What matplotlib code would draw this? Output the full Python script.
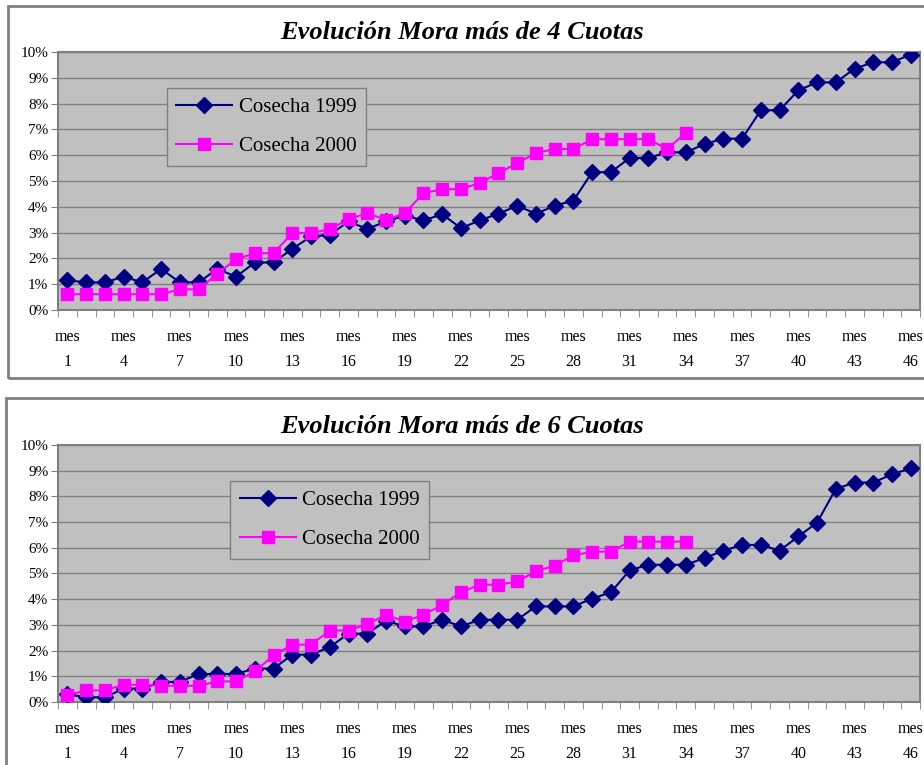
import numpy as np
import matplotlib.pyplot as plt
from matplotlib.patches import Rectangle

plt.rcParams['font.family'] = ['Liberation Serif', 'DejaVu Serif']

# months 1..46
meses = list(range(1, 47))

# Mora mas de 4 cuotas (%)
c1999_4 = [1.15, 1.07, 1.07, 1.29, 1.07, 1.59, 1.07, 1.07, 1.59, 1.29,
           1.84, 1.84, 2.37, 2.85, 2.91, 3.43, 3.14, 3.43, 3.66, 3.47,
           3.71, 3.17, 3.47, 3.73, 4.04, 3.73, 4.04, 4.24, 5.34, 5.34,
           5.89, 5.89, 6.11, 6.11, 6.43, 6.64, 6.64, 7.74, 7.74, 8.51,
           8.82, 8.82, 9.35, 9.60, 9.60, 9.90]
c2000_4 = [0.61, 0.61, 0.61, 0.61, 0.61, 0.61, 0.80, 0.80, 1.40, 1.97,
           2.20, 2.20, 2.98, 2.98, 3.13, 3.52, 3.75, 3.49, 3.75, 4.53,
           4.68, 4.68, 4.92, 5.30, 5.69, 6.08, 6.24, 6.24, 6.62, 6.62,
           6.62, 6.62, 6.24, 6.86]

# Mora mas de 6 cuotas (%)
c1999_6 = [0.30, 0.18, 0.18, 0.52, 0.52, 0.78, 0.78, 1.09, 1.09, 1.09,
           1.30, 1.30, 1.84, 1.84, 2.14, 2.66, 2.66, 3.16, 2.94, 2.94,
           3.20, 2.94, 3.20, 3.20, 3.20, 3.72, 3.72, 3.72, 4.02, 4.27,
           5.12, 5.34, 5.34, 5.34, 5.60, 5.89, 6.11, 6.11, 5.89, 6.44,
           6.98, 8.29, 8.54, 8.54, 8.86, 9.09]
c2000_6 = [0.26, 0.45, 0.45, 0.67, 0.67, 0.63, 0.63, 0.63, 0.80, 0.80,
           1.19, 1.81, 2.23, 2.23, 2.78, 2.78, 3.03, 3.39, 3.13, 3.39,
           3.78, 4.27, 4.56, 4.56, 4.69, 5.08, 5.31, 5.70, 5.85, 5.85,
           6.24, 6.24, 6.24, 6.24]

titulos = ['Evolución Mora más de 4 Cuotas', 'Evolución Mora más de 6 Cuotas']
etiquetas = ['Cosecha 1999', 'Cosecha 2000']

fig = plt.figure(figsize=(9.24, 7.65), dpi=100)

# chart frames
fig.patches.append(Rectangle((0.009, 0.506), 1.2, 0.486, transform=fig.transFigure,
                             fill=False, edgecolor='#808080', lw=2))
fig.patches.append(Rectangle((0.006, -0.2), 1.2, 0.68, transform=fig.transFigure,
                             fill=False, edgecolor='#808080', lw=2))

posiciones = [[0.0628, 0.5948, 0.933, 0.3373], [0.0628, 0.0824, 0.933, 0.3359]]
datos = [(c1999_4, c2000_4), (c1999_6, c2000_6)]
legend_x = [0.126, 0.2]

for k in range(2):
    ax = fig.add_axes(posiciones[k])
    ax.set_facecolor('#c0c0c0')
    s99, s00 = datos[k]
    ax.plot(meses[:len(s99)], s99, color='#000080', marker='D', markersize=8.5,
            lw=1.5, label=etiquetas[0], zorder=3)
    ax.plot(meses[:len(s00)], s00, color='#ff00ff', marker='s', markersize=9,
            lw=1.5, label=etiquetas[1], zorder=3)
    ax.set_xlim(0.5, 46.5)
    ax.set_ylim(0, 10)
    ax.set_yticks(range(0, 11))
    ax.set_yticklabels([f'{v}%' for v in range(0, 11)], fontsize=11)
    ax.yaxis.grid(True, color='#808080', lw=1)
    ax.set_axisbelow(True)
    ax.tick_params(axis='y', length=5, color='#808080', pad=2)
    ax.set_xticks(meses[::3])
    ax.set_xticklabels([f'mes\n{m}' for m in meses[::3]], fontsize=11.5, linespacing=1.75)
    ax.set_xticks(np.arange(0.5, 47, 1), minor=True)
    ax.tick_params(axis='x', which='major', length=0, pad=14)
    ax.tick_params(axis='x', which='minor', length=5, color='#808080')
    for sp in ax.spines.values():
        sp.set_color('#808080')
        sp.set_linewidth(1.5)
    ax.set_title(titulos[k], fontsize=19, fontweight='bold', fontstyle='italic', pad=9,
                 x=(462 - 58) / 862)
    leg = ax.legend(loc='upper left', bbox_to_anchor=(legend_x[k], 0.86), borderaxespad=0,
                    fontsize=15, fancybox=False, framealpha=1, facecolor='#c0c0c0',
                    edgecolor='#808080', handlelength=2.7, handletextpad=0.3,
                    borderpad=0.45, labelspacing=0.95)
    leg.get_frame().set_linewidth(1)

plt.savefig('out.png', dpi=100)
